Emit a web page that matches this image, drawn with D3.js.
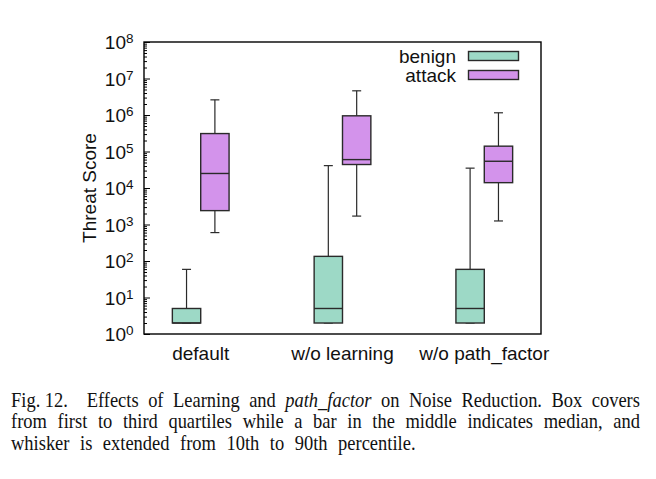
<!DOCTYPE html>
<html><head><meta charset="utf-8">
<script src="https://cdn.jsdelivr.net/npm/d3@7"></script>
<style>body{margin:0;background:#fff}</style>
</head><body>
<svg id="c" width="656" height="479"></svg>
<script>
const categories = ["default", "w/o learning", "w/o path_factor"];
const seriesNames = ["benign", "attack"];
// percentiles: 10th, Q1, median, Q3, 90th
const benignP10 = [2, 2, 2];
const benignQ1  = [2, 2, 2];
const benignMed = [2, 5, 5];
const benignQ3  = [5, 134, 59];
const benignP90 = [59, 41000, 35000];
const attackP10 = [600, 1700, 1250];
const attackQ1  = [2400, 44000, 14000];
const attackMed = [25000, 60000, 54000];
const attackQ3  = [310000, 950000, 140000];
const attackP90 = [2600000, 4600000, 1150000];
const yTickExps = [0,1,2,3,4,5,6,7,8];
const captionLines = [
  [["Fig. 12.", ""], ["\u2002Effects",""], ["of",""], ["Learning",""], ["and",""], ["path_factor","i"], ["on",""], ["Noise",""], ["Reduction.",""], ["Box",""], ["covers",""]],
  [["from",""],["first",""],["to",""],["third",""],["quartiles",""],["while",""],["a",""],["bar",""],["in",""],["the",""],["middle",""],["indicates",""],["median,",""],["and",""]],
  [["whisker",""],["is",""],["extended",""],["from",""],["10th",""],["to",""],["90th",""],["percentile.",""]]
];

const colors = {benign: "#9dd9c6", attack: "#d393eb"};
const stroke = "#2a2a2a";
const svg = d3.select("#c");
const L = 144, R = 541, T = 42, B = 334;
const x = d3.scaleLinear().domain([-0.4, 2.4]).range([L, R]);
const y = d3.scaleLog().domain([1, 1e8]).range([B, T]);
const sans = "'Liberation Sans', Arial, sans-serif";

// minor ticks
const minors = [];
for (let e = 0; e < 8; e++) for (let m = 2; m <= 9; m++) minors.push(m * Math.pow(10, e));
svg.append("g").attr("transform", `translate(${L},0)`)
  .call(d3.axisLeft(y).tickValues(minors).tickSize(-3).tickFormat(""))
  .call(g => { g.select(".domain").remove(); g.selectAll("line").attr("stroke", "#000").attr("stroke-width", 1); });
svg.append("g").attr("transform", `translate(${L},0)`)
  .call(d3.axisLeft(y).tickValues(yTickExps.map(e => Math.pow(10, e))).tickSize(-6).tickFormat(""))
  .call(g => { g.select(".domain").remove(); g.selectAll("line").attr("stroke", "#000").attr("stroke-width", 1); });

// tick labels
const lab = svg.append("g");
yTickExps.forEach(e => {
  lab.append("text").attr("x", 126).attr("y", y(Math.pow(10, e)) + 7)
    .attr("font-family", sans).attr("font-size", 19).attr("fill", "#111").attr("text-anchor", "end").text("10");
  lab.append("text").attr("x", 126).attr("y", y(Math.pow(10, e)) + 1)
    .attr("font-family", sans).attr("font-size", 13.5).attr("fill", "#111").text(e);
});

// boxes
const series = [
  {name: "benign", p10: benignP10, q1: benignQ1, med: benignMed, q3: benignQ3, p90: benignP90, off: -0.2},
  {name: "attack", p10: attackP10, q1: attackQ1, med: attackMed, q3: attackQ3, p90: attackP90, off: 0}
];
const bw = 0.2;
series.forEach(s => {
  const g = svg.append("g");
  categories.forEach((c, i) => {
    const x0 = x(i + s.off), x1 = x(i + s.off + bw), xc = (x0 + x1) / 2;
    const cap = 4.5;
    const line = (a, b, c2, d) => g.append("line").attr("x1", a).attr("x2", b).attr("y1", c2).attr("y2", d).attr("stroke", stroke).attr("stroke-width", 1.2);
    line(xc, xc, y(s.q3[i]), y(s.p90[i]));
    line(xc, xc, y(s.q1[i]), y(s.p10[i]));
    line(xc - cap, xc + cap, y(s.p90[i]), y(s.p90[i]));
    line(xc - cap, xc + cap, y(s.p10[i]), y(s.p10[i]));
    g.append("rect").attr("x", x0).attr("width", x1 - x0).attr("y", y(s.q3[i])).attr("height", y(s.q1[i]) - y(s.q3[i]))
      .attr("fill", colors[s.name]).attr("stroke", stroke).attr("stroke-width", 1.4);
    g.append("line").attr("x1", x0).attr("x2", x1).attr("y1", y(s.med[i])).attr("y2", y(s.med[i])).attr("stroke", stroke).attr("stroke-width", 1.4);
  });
});

// frame
svg.append("rect").attr("x", L).attr("y", T).attr("width", R - L).attr("height", B - T)
  .attr("fill", "none").attr("stroke", "#000").attr("stroke-width", 1.4);

// x labels
categories.forEach((c, i) => {
  svg.append("text").attr("x", x(i)).attr("y", 360).attr("text-anchor", "middle")
    .attr("font-family", sans).attr("font-size", 19).attr("fill", "#111").text(c);
});

// y title
svg.append("text").attr("transform", `translate(96,${(T + B) / 2}) rotate(-90)`).attr("text-anchor", "middle")
  .attr("font-family", sans).attr("font-size", 19).attr("fill", "#111").text("Threat Score");

// legend
seriesNames.forEach((n, k) => {
  const cy = 56 + k * 19;
  svg.append("text").attr("x", 456).attr("y", cy + 6.5).attr("text-anchor", "end")
    .attr("font-family", sans).attr("font-size", 19).attr("fill", "#111").text(n);
  svg.append("rect").attr("x", 468.5).attr("y", cy - 4.5).attr("width", 50).attr("height", 9)
    .attr("fill", colors[n]).attr("stroke", stroke).attr("stroke-width", 1.4);
});

// caption (justified, glyphs slightly condensed like the reference)
const serif = "'Liberation Serif', 'Times New Roman', serif";
const capL = 11, capR = 640, capFs = 21, sx = 0.88;
const baselines = [406.5, 428, 450];
captionLines.forEach((words, li) => {
  const by = baselines[li];
  const nodes = words.map(([w, st]) => svg.append("text")
    .attr("font-family", serif).attr("font-size", capFs).attr("fill", "#111")
    .attr("font-style", st === "i" ? "italic" : "normal").style("white-space", "pre").text(w));
  const widths = nodes.map(n => n.node().getComputedTextLength() * sx);
  const total = d3.sum(widths);
  const justify = li < captionLines.length - 1;
  const gap = justify ? (capR - capL - total) / (words.length - 1) : 10.5;
  let cx = capL;
  nodes.forEach((n, k) => { n.attr("transform", `translate(${cx},${by}) scale(${sx},1)`); cx += widths[k] + gap; });
});
</script>
</body></html>
